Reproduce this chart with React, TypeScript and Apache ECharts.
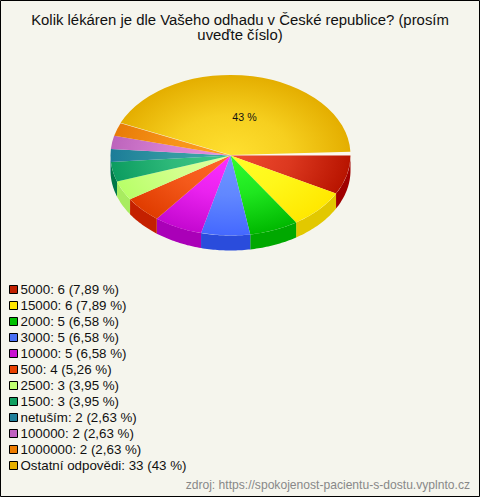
import React, { useEffect, useRef } from "react";
import * as echarts from "echarts";

const titleText = "Kolik lékáren je dle Vašeho odhadu v České republice? (prosím\nuveďte číslo)";
const sourceText = "zdroj: https://spokojenost-pacientu-s-dostu.vyplnto.cz";
const categories = ["5000", "15000", "2000", "3000", "10000", "500", "2500", "1500", "netuším", "100000", "1000000", "Ostatní odpovědi"];
const counts = [6, 6, 5, 5, 5, 4, 3, 3, 2, 2, 2, 33];
const percents = ["7,89", "7,89", "6,58", "6,58", "6,58", "5,26", "3,95", "3,95", "2,63", "2,63", "2,63", "43"];
const legendColors = ["#c02000", "#ffe600", "#00c000", "#4a70f5", "#c810d0", "#e84000", "#c0ff70", "#10a060", "#1f7f9a", "#c060c0", "#ee7c00", "#e6b000"];
const innerColors = ["#f04c30", "#ffff28", "#30ff30", "#7098ff", "#ff30ff", "#ff6828", "#e0ffa0", "#40c888", "#40a8a8", "#e890e0", "#ffa020", "#ffe030"];
const outerColors = ["#b81400", "#ffe800", "#00b800", "#4468ff", "#c408d0", "#e03c00", "#b8ff68", "#0c9c60", "#1c7c98", "#bc64bc", "#e87c08", "#e4ae00"];
const wallColors = ["#a00000", "#e2c800", "#00a800", "#2a4cdc", "#aa00b8", "#c42000", "#a8ec60", "#007848", "#005878", "#803080", "#b05000", "#b08000"];

const CX = 230.5;
const CY = 155.5;
const RX = 120;
const RY = 80;
const DEPTH = 15;

const total = counts.reduce((a, b) => a + b, 0);
const starts: number[] = [];
counts.reduce((acc, v, i) => {
  starts[i] = (acc / total) * Math.PI * 2;
  return acc + v;
}, 0);

function slice(i: number) {
  const a0 = starts[i];
  const a1 = a0 + (counts[i] / total) * Math.PI * 2;
  const last = i === counts.length - 1;
  const cy = last ? CY - 0.5 : CY;
  const children: any[] = [];
  const wEnd = Math.min(a1, Math.PI);
  if (a0 < Math.PI) {
    const pts: number[][] = [];
    const steps = 24;
    for (let k = 0; k <= steps; k++) {
      const t = a0 + ((wEnd - a0) * k) / steps;
      pts.push([CX + RX * Math.cos(t), cy + RY * Math.sin(t)]);
    }
    for (let k = steps; k >= 0; k--) {
      const t = a0 + ((wEnd - a0) * k) / steps;
      pts.push([CX + RX * Math.cos(t), cy + DEPTH + RY * Math.sin(t)]);
    }
    children.push({ type: "polygon", shape: { points: pts }, style: { fill: wallColors[i] }, z2: 1 });
  }
  if (last) {
    children.push({
      type: "sector", x: CX, y: cy, scaleY: RY / RX,
      shape: { cx: 0, cy: 0, r: RX, r0: 0, startAngle: a1 - 0.05, endAngle: a1, clockwise: true },
      style: { fill: "#fdf8ee" }, z2: 2,
    });
  }
  children.push({
    type: "sector",
    x: CX,
    y: cy,
    scaleY: RY / RX,
    shape: { cx: 0, cy: 0, r: RX, r0: 0, startAngle: a0, endAngle: last ? a1 - 0.04 : a1, clockwise: true },
    style: {
      fill: {
        type: "radial", x: 0, y: 0, r: RX, global: true,
        colorStops: [
          { offset: 0, color: innerColors[i] },
          { offset: 0.5, color: echarts.color.lerp(0.35, [innerColors[i], outerColors[i]]) },
          { offset: 1, color: outerColors[i] },
        ],
      },
    },
    z2: 3,
  });
  return { type: "group", children };
}

export default function App() {
  const ref = useRef<HTMLDivElement>(null);
  useEffect(() => {
    document.body.style.margin = "0";
    const chart = echarts.init(ref.current!, undefined, { renderer: "svg" });
    const names = categories.map((c, i) => `${c}: ${counts[i]} (${percents[i]} %)`);
    chart.setOption({
      animation: false,
      backgroundColor: "#f5f5ed",
      title: {
        text: titleText, left: 235, top: 7, textAlign: "center",
        textStyle: { fontFamily: "Liberation Sans", fontSize: 14.9, fontWeight: "normal", color: "#111", lineHeight: 15 },
      },
      legend: {
        orient: "vertical", left: 4, top: 278, itemWidth: 8, itemHeight: 8, itemGap: 3, selectedMode: false,
        icon: "rect",
        data: names.map((name, i) => ({
          name,
          itemStyle: { color: legendColors[i], borderColor: "#000", borderWidth: 1 },
        })),
        formatter: (n: string) => n,
        textStyle: { fontFamily: "Liberation Sans", fontSize: 13.33, color: "#111", padding: [0, 0, 0, -2], lineHeight: 12 },
      },
      graphic: [
        { type: "rect", z: -1, shape: { x: 0.5, y: 0.5, width: 479, height: 496 }, style: { fill: "none", stroke: "#000", lineWidth: 1 } },
        { type: "text", x: 244.5, y: 117, style: { text: "43 %", fill: "#111", font: "10.67px Liberation Sans", align: "center", verticalAlign: "middle" }, z: 10 },
        { type: "text", x: 470, y: 485, style: { text: sourceText, fill: "#888", font: "12.1px Liberation Sans", align: "right", verticalAlign: "middle" }, z: 10 },
      ],
      series: names.map((name, i) => ({
        type: "custom",
        name,
        coordinateSystem: "none",
        data: [[counts[i]]],
        itemStyle: { color: legendColors[i] },
        renderItem: () => slice(i),
      })),
    });
    return () => chart.dispose();
  }, []);
  return <div ref={ref} style={{ width: 480, height: 497 }} />;
}
